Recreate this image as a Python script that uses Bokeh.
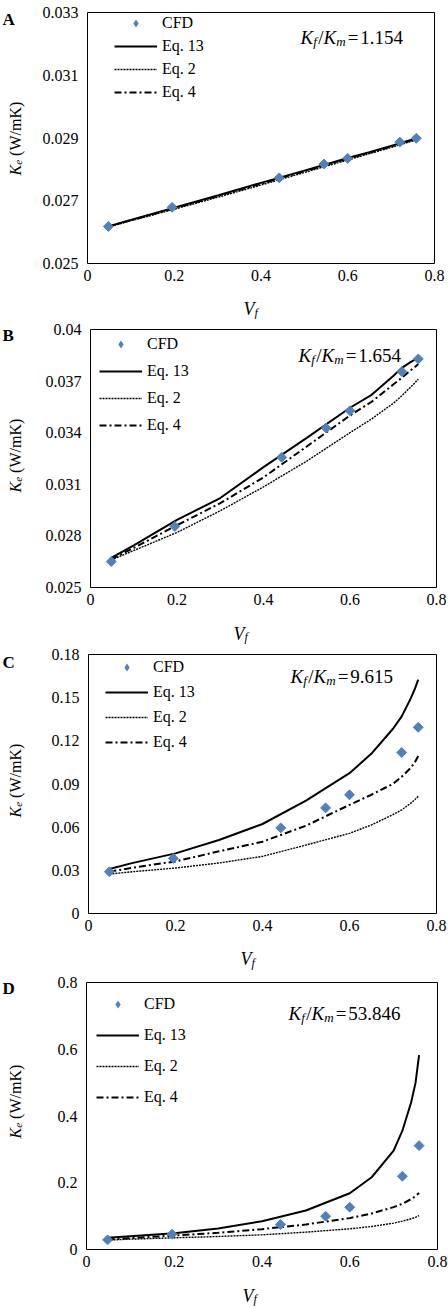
import math
from bokeh.plotting import figure
from bokeh.models import Range1d, FixedTicker, Legend, LegendItem, Label, BoxAnnotation
from bokeh.layouts import column
from bokeh.embed import file_html
from bokeh.resources import INLINE

# ---------------- data ----------------
vf_cfd = [0.048, 0.195, 0.442, 0.545, 0.600, 0.720, 0.758]
vf_line = [0.048, 0.10, 0.20, 0.30, 0.40, 0.50, 0.60, 0.65, 0.70, 0.72, 0.74, 0.75, 0.758]

x_ticks = [0, 0.2, 0.4, 0.6, 0.8]
x_tick_labels = ["0", "0.2", "0.4", "0.6", "0.8"]

# Panel A  (Kf/Km = 1.154)
cfd_a = [0.02618, 0.02679, 0.02773, 0.02817, 0.02835, 0.02887, 0.02899]
eq13_a = [0.02618, 0.02639, 0.02678, 0.02717, 0.02757, 0.02796, 0.02836, 0.02855, 0.02875, 0.02883, 0.02891, 0.02895, 0.02898]
eq2_a = [0.02617, 0.02636, 0.02673, 0.02711, 0.02750, 0.02790, 0.02830, 0.02850, 0.02870, 0.02878, 0.02887, 0.02891, 0.02895]
eq4_a = [0.02618, 0.02638, 0.02676, 0.02715, 0.02754, 0.02794, 0.02834, 0.02853, 0.02873, 0.02881, 0.02889, 0.02893, 0.02897]
y_ticks_a = [0.025, 0.027, 0.029, 0.031, 0.033]
y_labels_a = ["0.025", "0.027", "0.029", "0.031", "0.033"]

# Panel B  (Kf/Km = 1.654)
cfd_b = [0.02651, 0.02855, 0.03257, 0.03427, 0.03528, 0.03755, 0.03829]
eq13_b = [0.02672, 0.02745, 0.02893, 0.03020, 0.03200, 0.03370, 0.03545, 0.03620, 0.03730, 0.03777, 0.03810, 0.03825, 0.03840]
eq2_b = [0.02660, 0.02715, 0.02820, 0.02946, 0.03085, 0.03235, 0.03400, 0.03480, 0.03571, 0.03615, 0.03665, 0.03690, 0.03713]
eq4_b = [0.02665, 0.02730, 0.02862, 0.02990, 0.03140, 0.03320, 0.03500, 0.03580, 0.03680, 0.03720, 0.03762, 0.03782, 0.03800]
y_ticks_b = [0.025, 0.028, 0.031, 0.034, 0.037, 0.04]
y_labels_b = ["0.025", "0.028", "0.031", "0.034", "0.037", "0.04"]

# Panel C  (Kf/Km = 9.615)
cfd_c = [0.0290, 0.0383, 0.0595, 0.0734, 0.0825, 0.1119, 0.1294]
eq13_c = [0.0309, 0.0350, 0.0418, 0.0511, 0.0622, 0.0785, 0.0975, 0.1110, 0.1284, 0.1370, 0.1490, 0.1560, 0.1626]
eq2_c = [0.0274, 0.0290, 0.0316, 0.0351, 0.0397, 0.0476, 0.0557, 0.0615, 0.0687, 0.0720, 0.0765, 0.0790, 0.0815]
eq4_c = [0.0290, 0.0318, 0.0362, 0.0432, 0.0499, 0.0610, 0.0755, 0.0825, 0.0901, 0.0950, 0.1010, 0.1050, 0.1094]
y_ticks_c = [0, 0.03, 0.06, 0.09, 0.12, 0.15, 0.18]
y_labels_c = ["0", "0.03", "0.06", "0.09", "0.12", "0.15", "0.18"]

# Panel D  (Kf/Km = 53.846)
cfd_d = [0.0289, 0.0459, 0.0748, 0.0998, 0.1267, 0.2195, 0.3112]
eq13_d = [0.0350, 0.0400, 0.0489, 0.0628, 0.0848, 0.1167, 0.1686, 0.2165, 0.2963, 0.3560, 0.4410, 0.5000, 0.5825]
eq2_d = [0.0280, 0.0310, 0.0350, 0.0390, 0.0440, 0.0520, 0.0620, 0.0690, 0.0790, 0.0850, 0.0920, 0.0965, 0.1017]
eq4_d = [0.0300, 0.0340, 0.0420, 0.0500, 0.0610, 0.0750, 0.0940, 0.1080, 0.1270, 0.1370, 0.1510, 0.1600, 0.1696]
y_ticks_d = [0, 0.2, 0.4, 0.6, 0.8]
y_labels_d = ["0", "0.2", "0.4", "0.6", "0.8"]

series_names = ["CFD", "Eq. 13", "Eq. 2", "Eq. 4"]
panel_letters = ["A", "B", "C", "D"]
ratio_values = ["1.154", "1.654", "9.615", "53.846"]

# ---------------- style helpers ----------------
SERIF = "Liberation Serif"
BLUE = "#4F81BD"
W = 448  # figure width (page origin == canvas origin)

W_REG = {' ': 250, '(': 333, ')': 333, '/': 278, '=': 564, '.': 250, 'W': 944,
         'm': 778, 'K': 722}
W_ITA = {'K': 667, 'e': 444, 'f': 278, 'm': 722, 'V': 611}


def tw(text, size, italic=False):
    tbl = W_ITA if italic else W_REG
    return sum(tbl.get(c, 500) for c in text) * size / 1000.0


def rich(p, g, pieces, start_page, base_page, vertical=False):
    """pieces: (text, size, italic, shift_down, pad_after); page coords -> canvas screen coords"""
    bottom = g["top"] + g["h"]
    pos = 0.0
    for text, size, italic, shift, pad in pieces:
        if not vertical:
            x = start_page + pos
            y = bottom - (base_page + shift)
            ang = 0
        else:
            x = base_page + shift
            y = bottom - (start_page - pos)
            ang = math.pi / 2
        p.add_layout(Label(x=x, y=y, x_units="screen", y_units="screen", text=text,
                           angle=ang, text_font=SERIF, text_font_size=f"{size}px",
                           text_font_style="italic" if italic else "normal",
                           text_align="left", text_baseline="alphabetic",
                           text_color="black"))
        pos += tw(text, size, italic) + pad


# geometry per panel (page coordinates of figure and of the plot box)
geoms = [
    dict(top=0, h=319, ft=12, fb=263, fl=87, fr=434, leg=(114, 23, 3),
         ratio=(300, 36.5), vf=(243, 308, 4), yl=(175, 15), letter=19),
    dict(top=319, h=325, ft=329, fb=587, fl=90, fr=436, leg=(99, 344, 7),
         ratio=(298, 355), vf=(233, 633, 3), yl=(492, 15), letter=335),
    dict(top=644, h=326, ft=654, fb=913, fl=88, fr=436, leg=(105, 667, 5),
         ratio=(290, 676), vf=(240, 958, 4), yl=(817, 15), letter=662),
    dict(top=970, h=338, ft=982, fb=1249, fl=86, fr=437, leg=(96, 1004, 11),
         ratio=(288, 1013), vf=(242, 1295, 3), yl=(1138, 15), letter=988),
]

panels_data = [
    (cfd_a, eq13_a, eq2_a, eq4_a, (0.025, 0.033), y_ticks_a, y_labels_a),
    (cfd_b, eq13_b, eq2_b, eq4_b, (0.025, 0.04), y_ticks_b, y_labels_b),
    (cfd_c, eq13_c, eq2_c, eq4_c, (0.0, 0.18), y_ticks_c, y_labels_c),
    (cfd_d, eq13_d, eq2_d, eq4_d, (0.0, 0.8), y_ticks_d, y_labels_d),
]


def make_panel(i):
    cfd, e13, e2, e4, ylim, yt, ylab = panels_data[i]
    g = geoms[i]
    x0, x1 = 0.0, 0.8
    y0, y1 = ylim
    bottom = g["top"] + g["h"]
    # the frame covers the whole canvas; the visible plot box is [0,0.8] x [y0,y1]
    sx = (x1 - x0) / (g["fr"] - g["fl"])
    sy = (y1 - y0) / (g["fb"] - g["ft"])
    xr = Range1d(x0 - g["fl"] * sx, x1 + (W - g["fr"]) * sx)
    yr = Range1d(y0 - (bottom - g["fb"]) * sy, y1 + (g["ft"] - g["top"]) * sy)
    p = figure(width=W, height=g["h"], output_backend="svg", toolbar_location=None,
               x_range=xr, y_range=yr, min_border=0,
               min_border_left=0, min_border_right=0, min_border_top=0, min_border_bottom=0)
    p.xgrid.visible = False
    p.ygrid.visible = False
    p.outline_line_color = None
    p.background_fill_color = "white"
    p.border_fill_color = "white"

    p.add_layout(BoxAnnotation(left=x0, right=x1, bottom=y0, top=y1, fill_alpha=0,
                               line_color="black", line_width=1, line_alpha=1))

    p.xaxis.fixed_location = y0
    p.yaxis.fixed_location = x0
    p.xaxis.ticker = FixedTicker(ticks=x_ticks)
    p.xaxis.major_label_overrides = dict(zip(x_ticks, x_tick_labels))
    p.yaxis.ticker = FixedTicker(ticks=yt)
    p.yaxis.major_label_overrides = dict(zip(yt, ylab))
    for ax in p.axis:
        ax.axis_line_color = None
        ax.major_tick_line_color = None
        ax.minor_tick_line_color = None
        ax.major_tick_out = 0
        ax.major_tick_in = 0
        ax.minor_tick_out = 0
        ax.minor_tick_in = 0
        ax.major_label_text_font = SERIF
        ax.major_label_text_font_size = "16px"
        ax.major_label_text_color = "black"
    p.yaxis.major_label_standoff = 9
    p.xaxis.major_label_standoff = 6

    r13 = p.line(vf_line, e13, line_color="black", line_width=2)
    r2 = p.line(vf_line, e2, line_color="black", line_width=1.4, line_dash="2 1")
    r4 = p.line(vf_line, e4, line_color="black", line_width=2, line_dash="7 3 2 3")
    # CFD points: diamonds drawn as 45-degree squares
    p.scatter(vf_cfd, cfd, marker="square", size=7, angle=math.pi / 4,
              fill_color=BLUE, line_color=BLUE)
    # legend proxy for the CFD series (diamond symbol, zero-size in the plot)
    rc = p.scatter(vf_cfd, cfd, marker="diamond", size=0,
                   fill_color=BLUE, line_color=None)

    gx, gy, sp = g["leg"]
    leg_h = 4 * 20 + 3 * sp
    vy = bottom - (gy - 10) - leg_h
    legend = Legend(items=[LegendItem(label=series_names[0], renderers=[rc]),
                           LegendItem(label=series_names[1], renderers=[r13]),
                           LegendItem(label=series_names[2], renderers=[r2]),
                           LegendItem(label=series_names[3], renderers=[r4])],
                    location=(gx, vy),
                    label_text_font=SERIF, label_text_font_size="16px",
                    label_text_color="black",
                    glyph_width=43, glyph_height=20, label_height=20,
                    label_standoff=5, spacing=sp, padding=0, margin=0,
                    border_line_color=None, background_fill_alpha=0)
    p.add_layout(legend)

    # panel letter
    p.add_layout(Label(x=2, y=bottom - g["letter"], x_units="screen", y_units="screen",
                       text=panel_letters[i], text_font=SERIF, text_font_size="17px",
                       text_font_style="bold", text_align="left",
                       text_baseline="alphabetic", text_color="black"))
    # ratio annotation  K_f / K_m = value
    rx, rb = g["ratio"]
    rich(p, g, [("K", 19, True, 0, 0), ("f", 13, True, 4, 1.5), ("/", 19, False, 0, 0),
                ("K", 19, True, 0, 0), ("m", 13, True, 4, 2), ("=", 19, False, 0, 2),
                (ratio_values[i], 19, False, 0, 0)], rx, rb)
    # x axis title V_f
    vx, vb, vs = g["vf"]
    rich(p, g, [("V", 18, True, 0, 0), ("f", 12, True, vs, 0)], vx, vb)
    # y axis title K_e (W/mK), rotated
    ys, yb = g["yl"]
    rich(p, g, [("K", 16, True, 0, 0), ("e", 11, True, 3, 4), ("(W/mK)", 16, False, 0, 0)],
         ys, yb, vertical=True)
    return p


layout = column(*[make_panel(i) for i in range(4)], spacing=0)

html = file_html(layout, INLINE, "Ke vs Vf")
with open("out.html", "w") as f:
    f.write(html)
